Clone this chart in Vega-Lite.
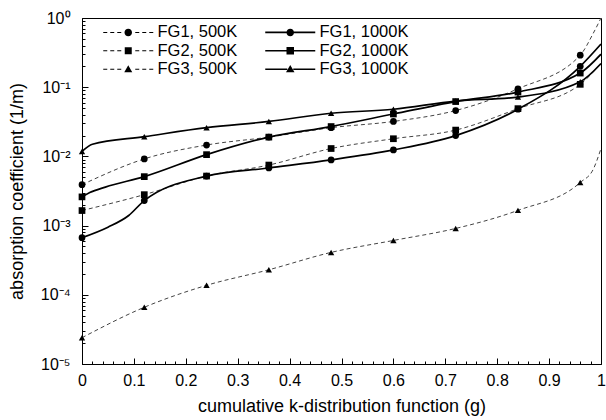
{
  "$schema": "https://vega.github.io/schema/vega-lite/v6.json",
  "width": 519,
  "height": 346,
  "autosize": "none",
  "padding": {"left": 82, "top": 18, "right": 5, "bottom": 56},
  "background": "white",
  "config": {
    "view": {"stroke": "black", "strokeWidth": 1},
    "font": "Liberation Sans",
    "axis": {
      "domainColor": "black", "tickColor": "black", "labelColor": "black", "titleColor": "black",
      "labelFont": "Liberation Sans", "titleFont": "Liberation Sans",
      "labelFontSize": 16, "titleFontSize": 18, "titleFontWeight": "normal", "grid": false
    }
  },
  "data": {
    "values": [
      {"g": 0, "k": 0.0039, "series": "FG1, 500K", "temp": "500K", "m": 1},
      {"g": 0.12, "k": 0.0092, "series": "FG1, 500K", "temp": "500K", "m": 1},
      {"g": 0.24, "k": 0.0146, "series": "FG1, 500K", "temp": "500K", "m": 1},
      {"g": 0.36, "k": 0.019, "series": "FG1, 500K", "temp": "500K", "m": 1},
      {"g": 0.48, "k": 0.026, "series": "FG1, 500K", "temp": "500K", "m": 1},
      {"g": 0.6, "k": 0.032, "series": "FG1, 500K", "temp": "500K", "m": 1},
      {"g": 0.72, "k": 0.046, "series": "FG1, 500K", "temp": "500K", "m": 1},
      {"g": 0.84, "k": 0.095, "series": "FG1, 500K", "temp": "500K", "m": 1},
      {"g": 0.96, "k": 0.29, "series": "FG1, 500K", "temp": "500K", "m": 1},
      {"g": 0.985, "k": 0.6, "series": "FG1, 500K", "temp": "500K", "m": 0},
      {"g": 1, "k": 1.0, "series": "FG1, 500K", "temp": "500K", "m": 0},

      {"g": 0, "k": 0.00165, "series": "FG2, 500K", "temp": "500K", "m": 1},
      {"g": 0.12, "k": 0.0028, "series": "FG2, 500K", "temp": "500K", "m": 1},
      {"g": 0.24, "k": 0.0052, "series": "FG2, 500K", "temp": "500K", "m": 1},
      {"g": 0.36, "k": 0.0075, "series": "FG2, 500K", "temp": "500K", "m": 1},
      {"g": 0.48, "k": 0.013, "series": "FG2, 500K", "temp": "500K", "m": 1},
      {"g": 0.6, "k": 0.018, "series": "FG2, 500K", "temp": "500K", "m": 1},
      {"g": 0.72, "k": 0.024, "series": "FG2, 500K", "temp": "500K", "m": 1},
      {"g": 0.84, "k": 0.049, "series": "FG2, 500K", "temp": "500K", "m": 1},
      {"g": 0.96, "k": 0.11, "series": "FG2, 500K", "temp": "500K", "m": 1},
      {"g": 1, "k": 0.22, "series": "FG2, 500K", "temp": "500K", "m": 0},

      {"g": 0, "k": 0.000024, "series": "FG3, 500K", "temp": "500K", "m": 1},
      {"g": 0.12, "k": 0.000066, "series": "FG3, 500K", "temp": "500K", "m": 1},
      {"g": 0.24, "k": 0.000137, "series": "FG3, 500K", "temp": "500K", "m": 1},
      {"g": 0.36, "k": 0.00023, "series": "FG3, 500K", "temp": "500K", "m": 1},
      {"g": 0.48, "k": 0.00041, "series": "FG3, 500K", "temp": "500K", "m": 1},
      {"g": 0.6, "k": 0.00061, "series": "FG3, 500K", "temp": "500K", "m": 1},
      {"g": 0.72, "k": 0.00091, "series": "FG3, 500K", "temp": "500K", "m": 1},
      {"g": 0.84, "k": 0.00166, "series": "FG3, 500K", "temp": "500K", "m": 1},
      {"g": 0.96, "k": 0.0042, "series": "FG3, 500K", "temp": "500K", "m": 1},
      {"g": 0.985, "k": 0.0065, "series": "FG3, 500K", "temp": "500K", "m": 0},
      {"g": 1, "k": 0.013, "series": "FG3, 500K", "temp": "500K", "m": 0},

      {"g": 0, "k": 0.00067, "series": "FG1, 1000K", "temp": "1000K", "m": 1},
      {"g": 0.05, "k": 0.00095, "series": "FG1, 1000K", "temp": "1000K", "m": 0},
      {"g": 0.09, "k": 0.0014, "series": "FG1, 1000K", "temp": "1000K", "m": 0},
      {"g": 0.12, "k": 0.0023, "series": "FG1, 1000K", "temp": "1000K", "m": 1},
      {"g": 0.24, "k": 0.0052, "series": "FG1, 1000K", "temp": "1000K", "m": 1},
      {"g": 0.36, "k": 0.0068, "series": "FG1, 1000K", "temp": "1000K", "m": 1},
      {"g": 0.48, "k": 0.0089, "series": "FG1, 1000K", "temp": "1000K", "m": 1},
      {"g": 0.6, "k": 0.0124, "series": "FG1, 1000K", "temp": "1000K", "m": 1},
      {"g": 0.72, "k": 0.02, "series": "FG1, 1000K", "temp": "1000K", "m": 1},
      {"g": 0.84, "k": 0.048, "series": "FG1, 1000K", "temp": "1000K", "m": 1},
      {"g": 0.96, "k": 0.2, "series": "FG1, 1000K", "temp": "1000K", "m": 1},
      {"g": 1, "k": 0.42, "series": "FG1, 1000K", "temp": "1000K", "m": 0},

      {"g": 0, "k": 0.0026, "series": "FG2, 1000K", "temp": "1000K", "m": 1},
      {"g": 0.015, "k": 0.003, "series": "FG2, 1000K", "temp": "1000K", "m": 0},
      {"g": 0.045, "k": 0.0036, "series": "FG2, 1000K", "temp": "1000K", "m": 0},
      {"g": 0.12, "k": 0.0051, "series": "FG2, 1000K", "temp": "1000K", "m": 1},
      {"g": 0.24, "k": 0.0106, "series": "FG2, 1000K", "temp": "1000K", "m": 1},
      {"g": 0.36, "k": 0.019, "series": "FG2, 1000K", "temp": "1000K", "m": 1},
      {"g": 0.48, "k": 0.027, "series": "FG2, 1000K", "temp": "1000K", "m": 1},
      {"g": 0.6, "k": 0.041, "series": "FG2, 1000K", "temp": "1000K", "m": 1},
      {"g": 0.72, "k": 0.062, "series": "FG2, 1000K", "temp": "1000K", "m": 1},
      {"g": 0.84, "k": 0.085, "series": "FG2, 1000K", "temp": "1000K", "m": 1},
      {"g": 0.96, "k": 0.16, "series": "FG2, 1000K", "temp": "1000K", "m": 1},
      {"g": 1, "k": 0.3, "series": "FG2, 1000K", "temp": "1000K", "m": 0},

      {"g": 0, "k": 0.0118, "series": "FG3, 1000K", "temp": "1000K", "m": 1},
      {"g": 0.02, "k": 0.015, "series": "FG3, 1000K", "temp": "1000K", "m": 0},
      {"g": 0.12, "k": 0.0193, "series": "FG3, 1000K", "temp": "1000K", "m": 1},
      {"g": 0.24, "k": 0.026, "series": "FG3, 1000K", "temp": "1000K", "m": 1},
      {"g": 0.36, "k": 0.032, "series": "FG3, 1000K", "temp": "1000K", "m": 1},
      {"g": 0.48, "k": 0.042, "series": "FG3, 1000K", "temp": "1000K", "m": 1},
      {"g": 0.6, "k": 0.048, "series": "FG3, 1000K", "temp": "1000K", "m": 1},
      {"g": 0.72, "k": 0.063, "series": "FG3, 1000K", "temp": "1000K", "m": 1},
      {"g": 0.84, "k": 0.072, "series": "FG3, 1000K", "temp": "1000K", "m": 1},
      {"g": 0.96, "k": 0.12, "series": "FG3, 1000K", "temp": "1000K", "m": 1},
      {"g": 1, "k": 0.22, "series": "FG3, 1000K", "temp": "1000K", "m": 0}
    ]
  },
  "encoding": {
    "x": {
      "field": "g", "type": "quantitative",
      "scale": {"domain": [0, 1], "nice": false, "zero": false},
      "axis": {
        "title": "cumulative k-distribution function (g)",
        "values": [0,0.02,0.04,0.06,0.08,0.1,0.12,0.14,0.16,0.18,0.2,0.22,0.24,0.26,0.28,0.3,0.32,0.34,0.36,0.38,0.4,0.42,0.44,0.46,0.48,0.5,0.52,0.54,0.56,0.58,0.6,0.62,0.64,0.66,0.68,0.7,0.72,0.74,0.76,0.78,0.8,0.82,0.84,0.86,0.88,0.9,0.92,0.94,0.96,0.98,1],
        "labelExpr": "abs(datum.value*10 - round(datum.value*10)) < 0.001 ? format(datum.value, '~g') : ''",
        "tickSize": {"condition": {"test": "abs(datum.value*10 - round(datum.value*10)) < 0.001", "value": -6}, "value": -3},
        "labelPadding": 14,
        "labelFlush": false,
        "labelOverlap": false,
        "titlePadding": 6
      }
    },
    "y": {
      "field": "k", "type": "quantitative",
      "scale": {"type": "log", "domain": [0.00001, 1], "nice": false},
      "axis": {
        "title": "absorption coefficient (1/m)",
        "values": [0.00001,0.00002,0.00003,0.00004,0.00005,0.00006,0.00007,0.00008,0.00009,0.0001,0.0002,0.0003,0.0004,0.0005,0.0006,0.0007,0.0008,0.0009,0.001,0.002,0.003,0.004,0.005,0.006,0.007,0.008,0.009,0.01,0.02,0.03,0.04,0.05,0.06,0.07,0.08,0.09,0.1,0.2,0.3,0.4,0.5,0.6,0.7,0.8,0.9,1],
        "labelExpr": "abs(log(datum.value)/LN10 - round(log(datum.value)/LN10)) < 0.01 ? ['10⁰','10⁻¹','10⁻²','10⁻³','10⁻⁴','10⁻⁵'][-round(log(datum.value)/LN10)] : ''",
        "tickSize": {"condition": {"test": "abs(log(datum.value)/LN10 - round(log(datum.value)/LN10)) < 0.01", "value": -6}, "value": -3},
        "labelPadding": 18,
        "labelOverlap": false,
        "labelFlush": false,
        "titlePadding": 14
      }
    }
  },
  "layer": [
    {
      "transform": [{"filter": "datum.temp == '500K'"}],
      "mark": {"type": "line", "interpolate": "monotone", "clip": true, "strokeDash": [4, 3], "strokeWidth": 1, "color": "#444444"},
      "encoding": {"detail": {"field": "series"}}
    },
    {
      "transform": [{"filter": "datum.temp == '1000K'"}],
      "mark": {"type": "line", "interpolate": "monotone", "clip": true, "strokeWidth": 1.7, "color": "black"},
      "encoding": {"detail": {"field": "series"}}
    },
    {
      "transform": [{"filter": "datum.m == 1 && indexof(datum.series, 'FG1') >= 0"}],
      "mark": {"type": "point", "shape": "circle", "filled": true, "opacity": 1, "color": "black", "size": 45},
      "encoding": {}
    },
    {
      "transform": [{"filter": "datum.m == 1 && indexof(datum.series, 'FG2') >= 0"}],
      "mark": {"type": "point", "shape": "square", "filled": true, "opacity": 1, "color": "black", "size": 45},
      "encoding": {}
    },
    {
      "transform": [{"filter": "datum.m == 1 && indexof(datum.series, 'FG3') >= 0"}],
      "mark": {"type": "point", "shape": "triangle-up", "filled": true, "opacity": 1, "color": "black", "size": 40},
      "encoding": {}
    },
    {
      "transform": [{"filter": "datum.m == 2"}],
      "mark": {"type": "point", "filled": true, "opacity": 1, "color": "black"},
      "encoding": {
        "shape": {
          "field": "series", "type": "nominal",
          "scale": {
            "domain": ["FG1, 500K", "FG2, 500K", "FG3, 500K", "FG1, 1000K", "FG2, 1000K", "FG3, 1000K"],
            "range": [
              "M-5,-0.1L-4.2,-0.1L-4.2,0.1L-5,0.1ZM-3.6,-0.1L-2.8,-0.1L-2.8,0.1L-3.6,0.1ZM-2.2,-0.1L-1.4,-0.1L-1.4,0.1L-2.2,0.1ZM1.4,-0.1L2.2,-0.1L2.2,0.1L1.4,0.1ZM2.8,-0.1L3.6,-0.1L3.6,0.1L2.8,0.1ZM4.2,-0.1L5,-0.1L5,0.1L4.2,0.1ZM0.75,0A0.75,0.75,0,1,1,-0.75,0A0.75,0.75,0,1,1,0.75,0Z",
              "M-5,-0.1L-4.2,-0.1L-4.2,0.1L-5,0.1ZM-3.6,-0.1L-2.8,-0.1L-2.8,0.1L-3.6,0.1ZM-2.2,-0.1L-1.4,-0.1L-1.4,0.1L-2.2,0.1ZM1.4,-0.1L2.2,-0.1L2.2,0.1L1.4,0.1ZM2.8,-0.1L3.6,-0.1L3.6,0.1L2.8,0.1ZM4.2,-0.1L5,-0.1L5,0.1L4.2,0.1ZM-0.7,-0.7L0.7,-0.7L0.7,0.7L-0.7,0.7Z",
              "M-5,-0.1L-4.2,-0.1L-4.2,0.1L-5,0.1ZM-3.6,-0.1L-2.8,-0.1L-2.8,0.1L-3.6,0.1ZM-2.2,-0.1L-1.4,-0.1L-1.4,0.1L-2.2,0.1ZM1.4,-0.1L2.2,-0.1L2.2,0.1L1.4,0.1ZM2.8,-0.1L3.6,-0.1L3.6,0.1L2.8,0.1ZM4.2,-0.1L5,-0.1L5,0.1L4.2,0.1ZM0,-0.8L0.8,0.6L-0.8,0.6Z",
              "M-5,-0.17L-0.6,-0.17L-0.6,0.17L-5,0.17ZM0.6,-0.17L5,-0.17L5,0.17L0.6,0.17ZM0.75,0A0.75,0.75,0,1,1,-0.75,0A0.75,0.75,0,1,1,0.75,0Z",
              "M-5,-0.17L-0.6,-0.17L-0.6,0.17L-5,0.17ZM0.6,-0.17L5,-0.17L5,0.17L0.6,0.17ZM-0.75,-0.75L0.75,-0.75L0.75,0.75L-0.75,0.75Z",
              "M-5,-0.17L-0.6,-0.17L-0.6,0.17L-5,0.17ZM0.6,-0.17L5,-0.17L5,0.17L0.6,0.17ZM0,-0.85L0.85,0.6L-0.85,0.6Z"
            ]
          },
          "legend": {
            "title": null, "orient": "none", "legendX": 18, "legendY": 6,
            "columns": 2, "columnPadding": 24, "rowPadding": 1.5, "padding": 0,
            "symbolSize": 100, "symbolOffset": 20, "labelOffset": 21,
            "labelFontSize": 16.5, "labelFont": "Liberation Sans", "labelColor": "black",
            "symbolFillColor": "black", "symbolStrokeWidth": 0
          }
        }
      }
    }
  ]
}
